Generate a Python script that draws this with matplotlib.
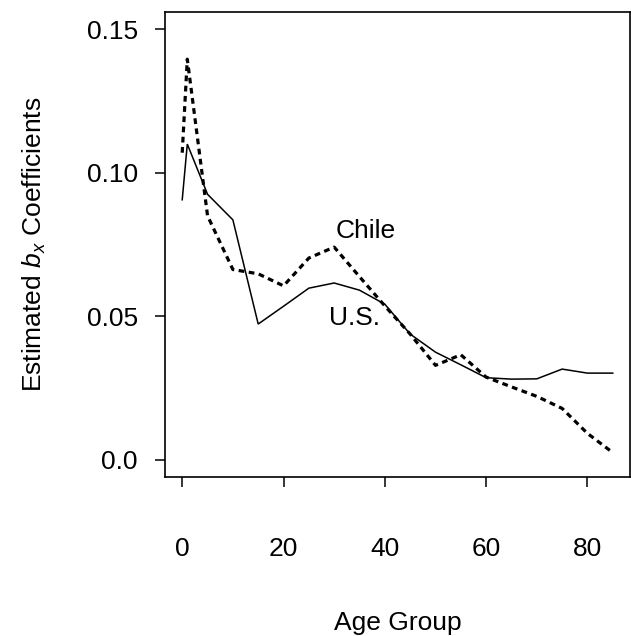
import matplotlib
matplotlib.use('Agg')
import matplotlib.pyplot as plt

# valeurs
ages = [0, 1, 5, 10, 15, 20, 25, 30, 35, 40, 45, 50, 55, 60, 65, 70, 75, 80, 85]
us = [0.0906, 0.110, 0.0925, 0.0836, 0.0473, 0.0535, 0.0598, 0.0616, 0.0591,
      0.0542, 0.0438, 0.0375, 0.0331, 0.0286, 0.0281, 0.0282, 0.0316, 0.0302, 0.0302]
chile = [0.107, 0.1396, 0.085, 0.0663, 0.0648, 0.0606, 0.0703, 0.0741, 0.0638,
         0.0536, 0.0438, 0.0329, 0.0366, 0.0288, 0.0254, 0.0221, 0.0179, 0.0092, 0.0025]
xticks = [0, 20, 40, 60, 80]
yticks = [0.0, 0.05, 0.10, 0.15]
yticklabels = ['0.0', '0.05', '0.10', '0.15']

plt.rcParams['font.family'] = ['Liberation Sans', 'DejaVu Sans']
plt.rcParams['mathtext.fontset'] = 'custom'
plt.rcParams['mathtext.it'] = 'Liberation Sans:italic'
plt.rcParams['mathtext.rm'] = 'Liberation Sans'

fig = plt.figure(figsize=(6.31, 6.36), dpi=100)
ax = fig.add_axes([0.2615, 0.25, 0.7369, 0.731])

ax.plot(ages, us, color='black', lw=1.1, solid_joinstyle='miter')
ax.plot(ages, chile, color='black', lw=2.3, linestyle=(0, (1.8, 1.4)))

ax.text(36.3, 0.0796, 'Chile', fontsize=19, ha='center', va='center')
ax.text(34.1, 0.0495, 'U.S.', fontsize=19, ha='center', va='center')

ax.set_xlim(-3.4, 88.4)
ax.set_ylim(-0.006, 0.156)
ax.set_xticks(xticks)
ax.set_yticks(yticks)
ax.set_yticklabels(yticklabels)
ax.tick_params(axis='both', labelsize=19, length=7.5, width=1.1, direction='out')
ax.tick_params(axis='x', pad=36)
ax.tick_params(axis='y', pad=12)
for s in ax.spines.values():
    s.set_linewidth(1.2)

xl = ax.set_xlabel('Age Group', fontsize=19)
ax.xaxis.set_label_coords(0.5, -0.314)
xl.set_va('center')
yl = ax.set_ylabel('Estimated $b_x$ Coefficients', fontsize=19)
ax.yaxis.set_label_coords(-0.28, 0.5)
yl.set_va('center')

fig.savefig('out.png', dpi=100)
